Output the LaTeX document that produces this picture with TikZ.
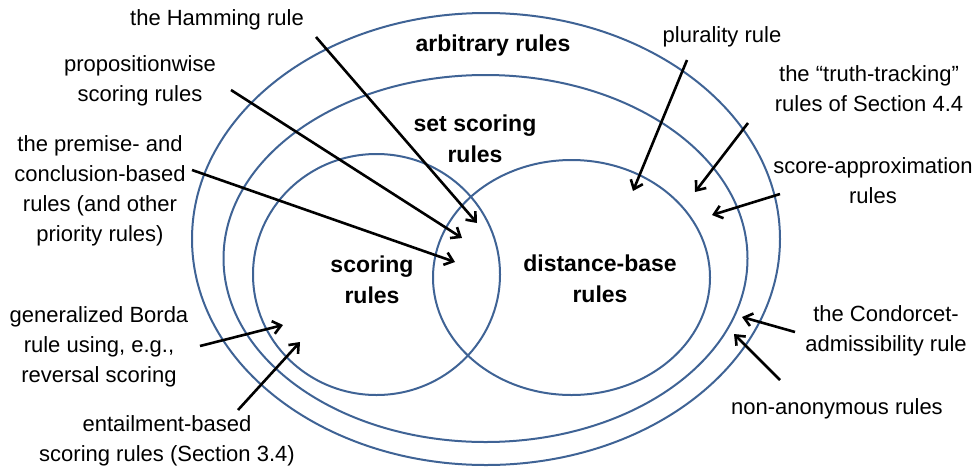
\documentclass[tikz,border=0pt]{standalone}
\usepackage{fontspec}
\setmainfont{Liberation Sans}
\usetikzlibrary{arrows.meta}
\definecolor{ringblue}{HTML}{3F6395}
\begin{document}
\begin{tikzpicture}[x=1pt,y=-1pt,
  ring/.style={draw=ringblue,line width=2pt},
  lbl/.style={align=center,inner sep=0pt,font=\fontsize{22}{30}\selectfont},
  setlbl/.style={align=center,inner sep=0pt,font=\bfseries\fontsize{23}{31}\selectfont},
  ptr/.style={line width=2.6pt,-{Straight Barb[length=8pt,width=13pt]}}]
\useasboundingbox (0,0) rectangle (979,469);
% sets
\draw[ring] (486,239) ellipse [x radius=294, y radius=226];
\draw[ring] (485.5,258.5) ellipse [x radius=262, y radius=183.5];
\draw[ring] (376.5,274.5) ellipse [x radius=123.5, y radius=120.5];
\draw[ring] (571.5,277.5) ellipse [x radius=138.5, y radius=117.5];
% set labels
\node[setlbl] (arb) at (493,46) {arbitrary rules};
\node[setlbl] (setsc) at (475,139) {set scoring\\rules};
\node[setlbl] (scor) at (372,280) {scoring\\rules};
\node[setlbl] (dist) at (600,279) {distance-base\\rules};
% annotation labels
\node[lbl] (ham) at (217,20) {the Hamming rule};
\node[lbl] (prop) at (140,81) {propositionwise\\scoring rules};
\node[lbl] (prem) at (100,191) {the premise- and\\conclusion-based\\rules (and other\\priority rules)};
\node[lbl] (borda) at (99,347) {generalized Borda\\rule using, e.g.,\\reversal scoring};
\node[lbl] (ent) at (167,441) {entailment-based\\scoring rules (Section 3.4)};
\node[lbl] (plur) at (722,37) {plurality rule};
\node[lbl] (truth) at (869,89) {the \textquotedblleft truth-tracking\textquotedblright\\rules of Section 4.4};
\node[lbl] (sapp) at (873,181) {score-approximation\\rules};
\node[lbl] (cond) at (886,331) {the Condorcet-\\admissibility rule};
\node[lbl] (nona) at (837,409) {non-anonymous rules};
% arrow ends
\coordinate (hamS) at (316,37);   \coordinate (hamT) at (477,223);
\coordinate (propS) at (231,90);  \coordinate (propT) at (462,238);
\coordinate (premS) at (192,170); \coordinate (premT) at (455,262);
\coordinate (bordaS) at (200,346);\coordinate (bordaT) at (283,325);
\coordinate (entS) at (238,410);  \coordinate (entT) at (300,342);
\coordinate (plurS) at (687,60);  \coordinate (plurT) at (633,191);
\coordinate (truthS) at (748,123);\coordinate (truthT) at (695,192);
\coordinate (sappS) at (780,194); \coordinate (sappT) at (712,215);
\coordinate (condS) at (795,332); \coordinate (condT) at (742,317);
\coordinate (nonaS) at (780,380); \coordinate (nonaT) at (734,334);
\draw[ptr] (hamS) -- (hamT);
\draw[ptr] (propS) -- (propT);
\draw[ptr] (premS) -- (premT);
\draw[ptr] (bordaS) -- (bordaT);
\draw[ptr] (entS) -- (entT);
\draw[ptr] (plurS) -- (plurT);
\draw[ptr] (truthS) -- (truthT);
\draw[ptr] (sappS) -- (sappT);
\draw[ptr] (condS) -- (condT);
\draw[ptr] (nonaS) -- (nonaT);
\end{tikzpicture}
\end{document}
